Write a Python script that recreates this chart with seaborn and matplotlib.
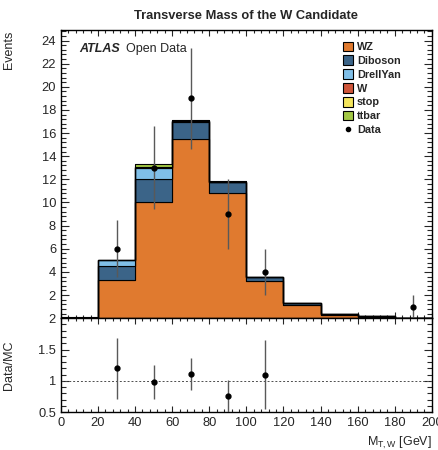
import numpy as np
import pandas as pd
import matplotlib
matplotlib.use("Agg")
import matplotlib.pyplot as plt
from matplotlib.ticker import MultipleLocator
from matplotlib.patches import Patch
from matplotlib.lines import Line2D
import seaborn as sns

# ==========================================
# DATA
# ==========================================

bin_edges = [0, 20, 40, 60, 80, 100, 120, 140, 160, 180, 200]
bin_centers = [10, 30, 50, 70, 90, 110, 130, 150, 170, 190]

wz = [0.0, 3.3, 10.0, 15.5, 10.8, 3.2, 1.1, 0.3, 0.12, 0.03]
diboson = [0.0, 1.25, 2.0, 1.5, 1.0, 0.4, 0.25, 0.1, 0.03, 0.02]
drellyan = [0.0, 0.45, 1.0, 0.05, 0.0, 0.0, 0.0, 0.0, 0.0, 0.0]
w_jets = [0.0, 0.0, 0.05, 0.0, 0.0, 0.0, 0.0, 0.0, 0.0, 0.0]
stop = [0.0, 0.0, 0.05, 0.02, 0.0, 0.0, 0.0, 0.0, 0.0, 0.0]
ttbar = [0.06, 0.0, 0.2, 0.05, 0.02, 0.0, 0.0, 0.0, 0.0, 0.0]

data_x = [30, 50, 70, 90, 110, 190]
data_y = [6, 13, 19, 9, 4, 1]
data_err = [2.45, 3.6, 4.36, 3.0, 2.0, 1.0]

ratio_x = [30, 50, 70, 90, 110]
ratio_y = [1.2, 0.98, 1.11, 0.76, 1.1]
ratio_err = [0.49, 0.27, 0.25, 0.26, 0.55]

processes = ["WZ", "Diboson", "DrellYan", "W", "stop", "ttbar"]
colors = ["#e07a2f", "#3b6488", "#80bfe8", "#cf553a", "#f4e55c", "#a3c845"]

# ==========================================
# BUILD LONG TABLE
# ==========================================

rows = []
for name, vals in zip(processes, [wz, diboson, drellyan, w_jets, stop, ttbar]):
    for x, v in zip(bin_centers, vals):
        rows.append({"mt": x, "weight": v, "process": name})
df = pd.DataFrame(rows)

# ==========================================
# FIGURE
# ==========================================

sns.set_style("ticks")
plt.rcParams["font.family"] = ["Liberation Sans", "DejaVu Sans"]
plt.rcParams["mathtext.fontset"] = "custom"
plt.rcParams["mathtext.rm"] = "Liberation Sans"
plt.rcParams["mathtext.it"] = "Liberation Sans"

fig = plt.figure(figsize=(4.38, 4.5), dpi=100)
ax = fig.add_axes([0.139, 0.293, 0.847, 0.64])
rax = fig.add_axes([0.139, 0.084, 0.847, 0.209])

# seaborn stacks the last hue level at the bottom
sns.histplot(
    data=df,
    x="mt",
    weights="weight",
    hue="process",
    hue_order=processes[::-1],
    palette=dict(zip(processes, colors)),
    multiple="stack",
    bins=bin_edges,
    element="step",
    alpha=1,
    edgecolor="black",
    linewidth=0.8,
    legend=False,
    ax=ax,
)

ax.errorbar(
    data_x, data_y, yerr=data_err,
    fmt="o", color="black", ecolor="0.35", elinewidth=1,
    markersize=3.5, capsize=0, zorder=5
)

ax.set_xlim(0, 200)
ax.set_ylim(0, 24.9)
ax.set_xlabel("")
ax.set_ylabel("Events", loc="top", fontsize=9)
ax.set_title("Transverse Mass of the W Candidate", fontsize=9.3,
             fontweight="bold", pad=8)
ax.yaxis.set_major_locator(MultipleLocator(2))
ax.yaxis.set_minor_locator(MultipleLocator(0.4))
ax.xaxis.set_major_locator(MultipleLocator(20))
ax.xaxis.set_minor_locator(MultipleLocator(4))
ax.set_yticks(np.arange(2, 25, 2))
ax.tick_params(axis="x", labelbottom=False)

ax.text(0.05, 0.935, "ATLAS", transform=ax.transAxes, fontsize=9,
        fontweight="bold", fontstyle="italic", va="center")
ax.text(0.175, 0.935, "Open Data", transform=ax.transAxes, fontsize=9,
        va="center")

handles = [Patch(facecolor=c, edgecolor="black", linewidth=0.8)
           for c in colors]
handles.append(Line2D([], [], marker="o", color="black", linestyle="",
                      markersize=3))
leg = ax.legend(
    handles, processes + ["Data"],
    loc="upper left", bbox_to_anchor=(0.75, 0.975),
    frameon=False, prop={"weight": "bold", "size": 7.8},
    handlelength=0.9, handleheight=1.0, handletextpad=0.35,
    labelspacing=0.3, borderaxespad=0
)

# ==========================================
# RATIO PANEL
# ==========================================

rax.axhline(1, color="0.3", linestyle=(0, (2, 2)), linewidth=0.7)
rax.errorbar(
    ratio_x, ratio_y, yerr=ratio_err,
    fmt="o", color="black", ecolor="0.35", elinewidth=1,
    markersize=3.5, capsize=0, zorder=5
)
rax.set_xlim(0, 200)
rax.set_ylim(0.5, 2)
rax.set_yticks([0.5, 1, 1.5, 2])
rax.set_yticklabels(["0.5", "1", "1.5", "2"])
rax.yaxis.set_minor_locator(MultipleLocator(0.1))
rax.xaxis.set_major_locator(MultipleLocator(20))
rax.xaxis.set_minor_locator(MultipleLocator(4))
rax.set_ylabel("Data/MC", fontsize=9)
rax.set_xlabel("M$_{\\mathrm{T,W}}$ [GeV]", loc="right", fontsize=9,
               labelpad=4)

for a in (ax, rax):
    for s in a.spines.values():
        s.set_linewidth(1.0)
        s.set_color("black")
    a.tick_params(which="both", direction="in", top=True, right=True,
                  labelsize=9.3, width=0.8)
    a.tick_params(axis="y", which="major", length=6)
    a.tick_params(axis="y", which="minor", length=3.5)
    a.tick_params(axis="x", which="major", length=4)
    a.tick_params(axis="x", which="minor", length=2)

ax.yaxis.set_label_coords(-0.125, 1.0)
rax.yaxis.set_label_coords(-0.125, 0.5)

fig.savefig("out.png", dpi=100)
plt.close(fig)
